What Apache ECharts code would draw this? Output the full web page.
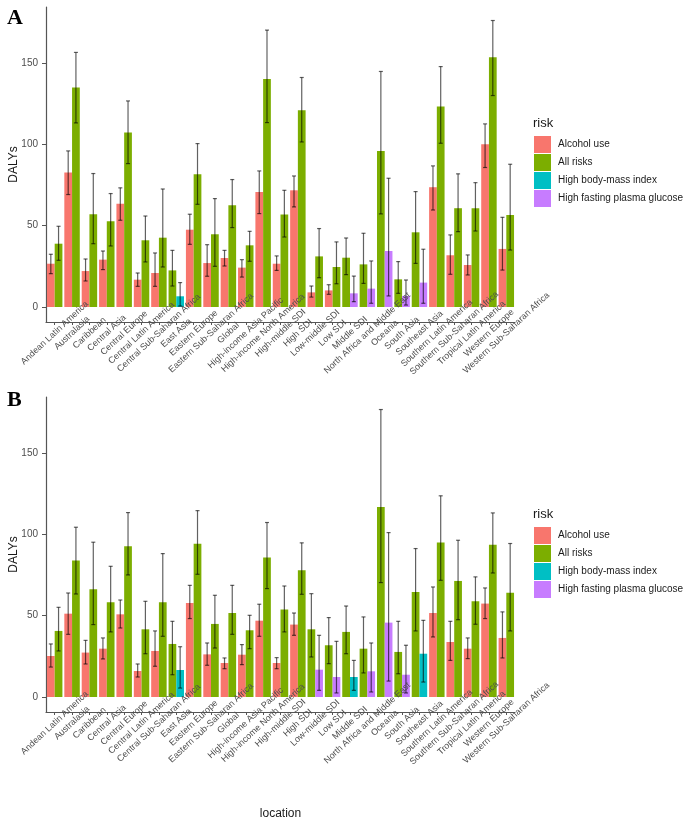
<!DOCTYPE html>
<html>
<head>
<meta charset="utf-8">
<script src="https://cdn.jsdelivr.net/npm/echarts@6/dist/echarts.min.js"></script>
<style>
  html, body { margin: 0; padding: 0; background: #fff; }
  #main { width: 685px; height: 819px; }
</style>
</head>
<body>
<div id="main"></div>
<script>
const locations = [
  'Andean Latin America', 'Australasia', 'Caribbean', 'Central Asia', 'Central Europe',
  'Central Latin America', 'Central Sub-Saharan Africa', 'East Asia', 'Eastern Europe',
  'Eastern Sub-Saharan Africa', 'Global', 'High-income Asia Pacific', 'High-income North America',
  'High-middle SDI', 'High SDI', 'Low-middle SDI', 'Low SDI', 'Middle SDI',
  'North Africa and Middle East', 'Oceania', 'South Asia', 'Southeast Asia',
  'Southern Latin America', 'Southern Sub-Saharan Africa', 'Tropical Latin America',
  'Western Europe', 'Western Sub-Saharan Africa'
];
const risks = ['Alcohol use', 'All risks', 'High body-mass index', 'High fasting plasma glucose'];
const yTicks = [0, 50, 100, 150];

// [value, lower, upper] per location, null where the bar is absent
const alcoholA = [
  [26.6, 20.5, 32.4], [82.6, 69.1, 95.9], [22.1, 16.0, 29.5], [29.1, 23.0, 34.4], [63.5, 53.3, 73.2],
  [16.8, 12.7, 20.9], [20.9, 12.7, 33.2], null, [47.5, 38.5, 57.0], [27.0, 18.9, 38.3],
  [30.1, 25.2, 34.8], [24.2, 18.4, 29.1], [70.7, 57.4, 83.6], [26.6, 22.5, 31.4], [71.7, 61.5, 80.5],
  [9.0, 6.1, 12.9], [10.2, 7.8, 13.7], null, null, null, null, null,
  [73.6, 59.6, 86.7], [31.8, 20.1, 44.3], [25.8, 19.7, 32.0], [100.0, 85.7, 112.5], [35.7, 22.7, 55.1]
];
const allRisksA = [
  [38.9, 28.7, 49.6], [134.8, 113.1, 156.4], [57.0, 38.9, 82.0], [52.7, 37.5, 69.7], [107.2, 88.1, 126.6],
  [41.0, 27.7, 55.9], [42.6, 24.6, 72.5], [22.5, 12.9, 34.8], [81.6, 63.1, 100.4], [44.7, 25.0, 66.6],
  [62.5, 48.8, 78.3], [37.9, 28.1, 46.5], [140.0, 113.3, 170.1], [56.8, 43.0, 71.7], [120.9, 101.4, 141.0],
  [31.1, 18.0, 48.2], [24.6, 14.3, 40.0], [30.3, 19.9, 42.4], [26.2, 14.5, 45.3], [95.9, 57.2, 144.7],
  [17.0, 8.4, 27.9], [45.9, 26.8, 70.9], [123.2, 100.6, 147.7], [60.7, 46.3, 81.8], [60.7, 46.7, 76.4],
  [153.5, 129.9, 176.0], [56.6, 35.0, 87.7]
];
const bmiA = [
  null, null, null, null, null, null, null, [6.6, 0.6, 15.0], null, null,
  null, null, null, null, null, null, null, null, null, null,
  null, null, null, null, null, null, null
];
const fpgA = [
  null, null, null, null, null, null, null, null, null, null,
  null, null, null, null, null, null, null, [8.4, 3.3, 19.0], [11.3, 2.3, 28.3], [34.4, 6.8, 79.1],
  [6.8, 1.2, 16.6], [15.0, 2.3, 35.5], null, null, null, null, null
];

const alcoholB = [
  [25.2, 18.4, 32.6], [51.2, 38.5, 63.9], [27.3, 20.3, 34.8], [29.7, 23.4, 36.3], [50.8, 42.4, 59.6],
  [16.0, 12.3, 20.3], [28.3, 18.9, 40.6], null, [57.8, 48.2, 68.6], [26.2, 19.5, 33.2],
  [20.9, 17.4, 24.0], [26.0, 19.9, 32.2], [46.9, 37.3, 57.0], [20.9, 17.4, 24.2], [44.5, 37.9, 51.6],
  null, null, null, null, null, null, null,
  [51.6, 36.9, 67.6], [33.8, 22.5, 46.5], [29.7, 23.6, 36.3], [57.4, 48.2, 67.0], [36.3, 24.0, 52.3]
];
const allRisksB = [
  [40.6, 28.3, 55.1], [83.8, 63.3, 104.3], [66.2, 44.5, 95.1], [58.2, 40.0, 80.3], [92.6, 75.0, 113.3],
  [41.6, 26.6, 58.8], [58.2, 37.3, 88.1], [32.6, 13.7, 46.5], [94.1, 75.4, 114.5], [44.9, 30.1, 62.5],
  [51.6, 38.5, 68.6], [41.0, 29.7, 50.2], [85.7, 66.6, 107.2], [53.7, 40.0, 68.2], [77.9, 63.1, 94.7],
  [41.6, 24.6, 63.5], [31.8, 20.5, 48.8], [40.0, 26.6, 55.9], [29.7, 14.8, 49.2], [116.8, 70.3, 176.6],
  [27.7, 14.3, 46.5], [64.5, 40.6, 91.2], [94.9, 71.7, 123.6], [71.3, 47.5, 96.3], [58.8, 44.7, 73.8],
  [93.6, 76.2, 113.1], [64.1, 40.6, 94.3]
];
const bmiB = [
  null, null, null, null, null, null, null, [16.6, 5.5, 30.9], null, null,
  null, null, null, null, null, null, null, [12.3, 4.1, 22.5], null, null,
  null, [26.6, 9.2, 47.1], null, null, null, null, null
];
const fpgB = [
  null, null, null, null, null, null, null, null, null, null,
  null, null, null, null, null, [16.8, 4.1, 37.9], [12.3, 2.5, 34.2], null, [15.8, 3.1, 33.2], [45.7, 9.8, 101.0],
  [13.7, 2.5, 31.8], null, null, null, null, null, null
];

const colors = ['#F8766D', '#7CAE00', '#00BFC4', '#C77CFF'];
const font = 'Liberation Sans, Arial, sans-serif';
const catGap = 0.11;

function panelSeries(idx, alcohol, allRisks, bmi, fpg) {
  const val = (d) => (d ? d[0] : null);
  const common = {
    type: 'bar', xAxisIndex: idx, yAxisIndex: idx,
    barGap: '0%', barCategoryGap: (catGap * 100) + '%',
    emphasis: { disabled: true }
  };
  const series = [
    Object.assign({}, common, { name: risks[0], stack: 'L' + idx, itemStyle: { color: colors[0] }, data: alcohol.map(val) }),
    Object.assign({}, common, { name: risks[1], stack: 'L' + idx, itemStyle: { color: colors[1] },
      data: allRisks.map((d, i) => (alcohol[i] ? null : val(d))) }),
    Object.assign({}, common, { name: risks[1], stack: 'R' + idx, itemStyle: { color: colors[1] },
      data: allRisks.map((d, i) => (alcohol[i] ? val(d) : null)) }),
    Object.assign({}, common, { name: risks[2], stack: 'R' + idx, itemStyle: { color: colors[2] }, data: bmi.map(val) }),
    Object.assign({}, common, { name: risks[3], stack: 'R' + idx, itemStyle: { color: colors[3] }, data: fpg.map(val) })
  ];

  // error bars: [category, lower, upper, slot]
  const errs = [];
  locations.forEach((loc, i) => {
    if (alcohol[i]) errs.push([i, alcohol[i][1], alcohol[i][2], 0]);
    if (allRisks[i]) errs.push([i, allRisks[i][1], allRisks[i][2], alcohol[i] ? 1 : 0]);
    if (bmi[i]) errs.push([i, bmi[i][1], bmi[i][2], 1]);
    if (fpg[i]) errs.push([i, fpg[i][1], fpg[i][2], 1]);
  });
  series.push({
    type: 'custom', xAxisIndex: idx, yAxisIndex: idx, z: 4,
    encode: { x: 0, y: [1, 2] },
    data: errs,
    renderItem(params, api) {
      const band = api.size([1, 0])[0];
      const bw = band * (1 - catGap) / 2;
      const cx = api.coord([api.value(0), 0])[0] + (api.value(3) ? bw / 2 : -bw / 2);
      const y1 = api.coord([api.value(0), api.value(1)])[1];
      const y2 = api.coord([api.value(0), api.value(2)])[1];
      const cap = bw * 0.26;
      const style = { stroke: 'rgba(0,0,0,0.62)', lineWidth: 1.2 };
      return {
        type: 'group',
        children: [
          { type: 'line', shape: { x1: cx, y1: y1, x2: cx, y2: y2 }, style },
          { type: 'line', shape: { x1: cx - cap, y1: y1, x2: cx + cap, y2: y1 }, style },
          { type: 'line', shape: { x1: cx - cap, y1: y2, x2: cx + cap, y2: y2 }, style }
        ]
      };
    }
  });
  return series;
}

function xAxisFor(idx, withName) {
  return {
    type: 'category', gridIndex: idx, data: locations, z: 5,
    axisLine: { onZero: false, lineStyle: { color: '#555', width: 1.2 } },
    axisTick: { show: true, length: 3, alignWithLabel: true, lineStyle: { color: '#555' } },
    axisLabel: {
      interval: 0, rotate: 43, align: 'center', verticalAlign: 'middle', margin: 11,
      fontSize: 9, color: '#4d4d4d', fontFamily: font, hideOverlap: false
    },
    name: withName ? 'location' : '',
    nameLocation: 'middle', nameGap: 96, nameMoveOverlap: false,
    nameTextStyle: { fontSize: 12, color: '#1a1a1a', fontFamily: font }
  };
}

function yAxisFor(idx) {
  return {
    type: 'value', gridIndex: idx, min: -9.2, max: 184.3,
    splitLine: { show: false },
    axisLine: { show: true, onZero: false, lineStyle: { color: '#555', width: 1.2 } },
    axisTick: { show: true, length: 4, customValues: yTicks, lineStyle: { color: '#555' } },
    axisLabel: { customValues: yTicks, fontSize: 10, color: '#4d4d4d', fontFamily: font, margin: 8 },
    name: 'DALYs', nameLocation: 'middle', nameRotate: 90, nameGap: 26, nameMoveOverlap: false,
    nameTextStyle: { fontSize: 12, color: '#1a1a1a', fontFamily: font }
  };
}

function legendFor(top) {
  return {
    data: risks, orient: 'vertical', left: 534, top: top, padding: 0,
    itemWidth: 17, itemHeight: 17, itemGap: 1, icon: 'rect',
    selectedMode: false,
    textStyle: { fontSize: 10, color: '#1a1a1a', fontFamily: font, padding: [0, 0, 0, 2] }
  };
}

const myChart = echarts.init(document.getElementById('main'), null, { renderer: 'canvas' });
const option = {
  animation: false,
  color: colors,
  title: [
    { text: 'A', left: 2, top: 2, textStyle: { fontFamily: 'Liberation Serif, serif', fontWeight: 'bold', fontSize: 22, color: '#000' } },
    { text: 'B', left: 2, top: 384, textStyle: { fontFamily: 'Liberation Serif, serif', fontWeight: 'bold', fontSize: 22, color: '#000' } },
    { text: 'risk', left: 533, top: 117, padding: 0, textStyle: { fontFamily: font, fontWeight: 'normal', fontSize: 13, color: '#1a1a1a' } },
    { text: 'risk', left: 533, top: 508, padding: 0, textStyle: { fontFamily: font, fontWeight: 'normal', fontSize: 13, color: '#1a1a1a' } }
  ],
  legend: [legendFor(136), legendFor(527)],
  grid: [
    { left: 46, top: 7, width: 469, height: 315, outerBoundsMode: 'none', containLabel: false },
    { left: 46, top: 397, width: 469, height: 315, outerBoundsMode: 'none', containLabel: false }
  ],
  xAxis: [xAxisFor(0, false), xAxisFor(1, true)],
  yAxis: [yAxisFor(0), yAxisFor(1)],
  series: panelSeries(0, alcoholA, allRisksA, bmiA, fpgA)
    .concat(panelSeries(1, alcoholB, allRisksB, bmiB, fpgB))
};

myChart.setOption(option);
</script>
</body>
</html>
